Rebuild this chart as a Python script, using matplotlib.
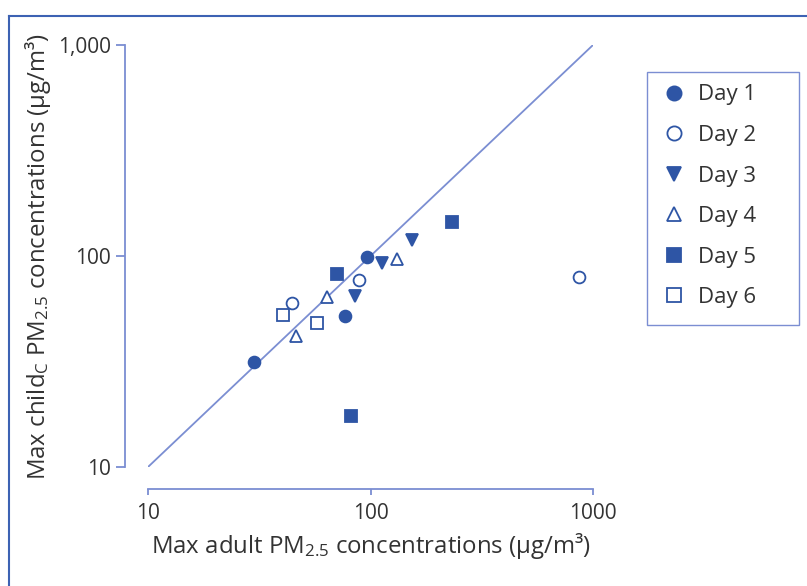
import numpy as np
import matplotlib
matplotlib.use("Agg")
import matplotlib.pyplot as plt
from matplotlib.lines import Line2D
from matplotlib.patches import Rectangle
from matplotlib.ticker import FixedLocator, FixedFormatter, NullLocator

plt.rcParams['font.family'] = ['Open Sans', 'DejaVu Sans']
plt.rcParams['mathtext.default'] = 'regular'

# values (adult, child)
day1_x = [29.9, 96.4, 76.8]
day1_y = [31.5, 98.9, 52.0]
day2_x = [44.3, 89.1, 867.0]
day2_y = [59.7, 76.9, 79.2]
day3_x = [85.1, 113.0, 153.0]
day3_y = [64.5, 92.3, 119.0]
day4_x = [46.2, 63.6, 132.0]
day4_y = [41.8, 64.1, 96.4]
day5_x = [70.5, 81.5, 233.0]
day5_y = [81.8, 17.5, 145.0]
day6_x = [40.3, 57.3]
day6_y = [52.5, 48.3]

x_ticks = [10, 100, 1000]
x_ticklabels = ['10', '100', '1000']
y_ticks = [10, 100, 1000]
y_ticklabels = ['10', '100', '1,000']

blue = '#2E55A5'
light = '#7B8ED2'
frame = '#3D62B3'
txt = '#333333'

W, H = 807, 586
fig = plt.figure(figsize=(W / 100, H / 100), dpi=100)
ax = fig.add_axes([148 / W, 1 - 467 / H, 445 / W, 422 / H])

ax.plot([10, 1000], [10, 1000], color=light, lw=1.3, zorder=1)

ms = 8.5
series = [
    (day1_x, day1_y, 'o', True, 'Day 1'),
    (day2_x, day2_y, 'o', False, 'Day 2'),
    (day3_x, day3_y, 'v', True, 'Day 3'),
    (day4_x, day4_y, '^', False, 'Day 4'),
    (day5_x, day5_y, 's', True, 'Day 5'),
    (day6_x, day6_y, 's', False, 'Day 6'),
]
for xs, ys, m, filled, lab in series:
    ax.plot(xs, ys, ls='none', marker=m, ms=ms if m != 's' else ms * 0.95,
            mfc=blue if filled else 'white', mec=blue, mew=1.3, label=lab, zorder=3)

ax.set_xscale('log')
ax.set_yscale('log')
ax.set_xlim(10, 1000)
ax.set_ylim(10, 1000)

ax.xaxis.set_major_locator(FixedLocator(x_ticks))
ax.xaxis.set_major_formatter(FixedFormatter(x_ticklabels))
ax.yaxis.set_major_locator(FixedLocator(y_ticks))
ax.yaxis.set_major_formatter(FixedFormatter(y_ticklabels))
ax.xaxis.set_minor_locator(NullLocator())
ax.yaxis.set_minor_locator(NullLocator())

for s in ['top', 'right']:
    ax.spines[s].set_visible(False)
ax.spines['left'].set_position(('outward', 16.5))
ax.spines['bottom'].set_position(('outward', 16))
for s in ['left', 'bottom']:
    ax.spines[s].set_color(light)
    ax.spines[s].set_linewidth(1.3)

ax.tick_params(axis='y', length=6.5, width=1.3, color=light, labelsize=15,
               labelcolor=txt, pad=3.5)
ax.tick_params(axis='x', length=4, width=1.3, color=light, labelsize=15,
               labelcolor=txt, pad=6)
ax.patch.set_visible(False)

ax.set_xlabel('Max adult PM$_{2.5}$ concentrations (µg/m³)', fontsize=17.3,
              color=txt, labelpad=5)
ax.set_ylabel('Max child$_{C}$ PM$_{2.5}$ concentrations (µg/m³)', fontsize=17.3,
              color=txt, labelpad=4)

leg = ax.legend(loc='upper left', bbox_to_anchor=(658 / W, 1 - 80 / H),
                bbox_transform=fig.transFigure, fontsize=16, frameon=False,
                markerscale=1.2, handlelength=1.0, handletextpad=0.6,
                labelspacing=0.88, borderpad=0.2, borderaxespad=0)
for t in leg.get_texts():
    t.set_color(txt)

# legend box drawn separately (wide right margin in the original)
fig.add_artist(Rectangle((647 / W, 1 - 325 / H), 152 / W, 253 / H, fill=False,
                         edgecolor=light, lw=1.0, transform=fig.transFigure))

# outer frame, only top and left edges visible
fig.add_artist(Line2D([9 / W, 9 / W], [0, 1 - 16 / H], color=frame, lw=1.5,
                      transform=fig.transFigure))
fig.add_artist(Line2D([9 / W, 1], [1 - 16 / H, 1 - 16 / H], color=frame, lw=1.5,
                      transform=fig.transFigure))

fig.savefig('out.png', dpi=100)
